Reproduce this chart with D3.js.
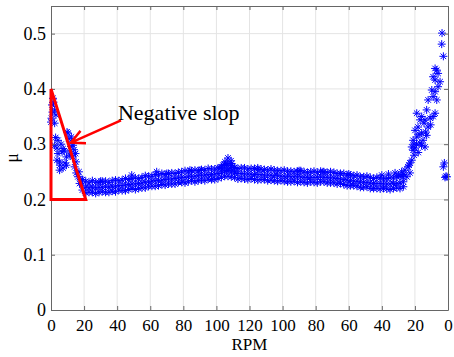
<!DOCTYPE html>
<html>
<head>
<meta charset="utf-8">
<script src="https://cdn.jsdelivr.net/npm/d3@7"></script>
<style>
  body { margin: 0; background: #fff; }
  svg { display: block; }
  text { font-family: "Liberation Serif", "Times New Roman", serif; fill: #000; }
</style>
</head>
<body>
<div id="chart"></div>
<script>
// run position: speed goes 0 -> 120 RPM, then back down 120 -> 0
const xTickPos = [0, 20, 40, 60, 80, 100, 120, 140, 160, 180, 200, 220, 240];
const xTickLabels = ['0', '20', '40', '60', '80', '100', '120', '100', '80', '60', '40', '20', '0'];
const yTicks = [0, 0.1, 0.2, 0.3, 0.4, 0.5];

// steady band, sampled every 2 position units from pos 19 (mu x 1000)
const bandStart = 19, bandStep = 2;
const bandMid = [226,222,221,222,221,222,222,223,222,224,224,225,225,226,227,228,228,229,230,231,
  232,233,234,234,235,236,237,237,238,239,240,240,241,242,242,243,244,244,245,245,
  246,247,248,251,252,250,248,247,247,246,246,246,245,245,245,244,244,244,243,243,
  242,242,242,241,241,241,241,240,240,240,240,240,241,240,240,239,239,238,237,236,
  235,234,233,233,232,231,231,230,229,229,229,228,228,228,229,229,230,232];
const bandHi = [236,233,230,234,231,231,233,233,231,234,235,234,235,238,236,238,239,238,240,243,
  242,242,245,244,247,245,247,248,247,249,250,252,250,252,253,252,254,253,256,255,
  255,257,259,263,265,261,258,256,257,257,255,256,256,254,255,254,253,255,253,252,
  252,253,251,251,250,251,252,250,249,250,251,249,251,250,249,250,249,247,247,247,
  244,244,243,244,241,241,242,240,238,240,239,237,238,239,239,241,242,245];
const bandLo = [217,212,213,213,211,213,214,213,213,215,214,217,216,216,218,220,218,220,221,221,
  224,224,224,225,227,226,228,228,228,231,231,230,232,234,232,234,235,234,237,236,
  236,238,240,242,242,241,240,237,238,237,236,238,236,235,236,236,234,235,234,233,
  234,233,232,232,233,231,232,231,230,232,231,230,232,232,230,230,230,228,229,227,
  225,225,225,224,222,222,223,220,220,220,219,220,219,218,220,221,220,223];

// start-up scatter (negative slope region)
const startPos = [1.2,0.6,2.2,0.0,2.2,3.0,1.5,0.3,0.9,
  4.2,2.2,7.3,4.2,9.3,5.2,7.3,5.2,10.3,12.3,11.3,13.3,14.3,16.3,17.3,15.3,9.3,
  9.7,12.7,13.3,3.6,6.7,3.6,8.5,5.4,10.9,12.1,13.9,15.1,16.9,18.1,11.5,6.1,8.0,2.8,14.8];
const startMu = [383,371,362,340,338,353,376,347,358,
  307,298,292,283,277,268,257,253,320,313,286,277,259,241,229,248,262,
  322,304,298,293,286,271,266,262,310,296,290,268,250,236,280,300,288,312,283];

// bumps above the band
const bumpPos = [102.2,104.0,105.2,106.2,107.0,108.2,109.2,111.2,106.5,103.5,108.8,110.0,
  48.8,63.9,84.0,90.1,164.4,208.0,30.0,70.0,125.0,150.0,180.0,200.0,204.0,212.0,210.0];
const bumpMu = [257,262,268,253,275,257,265,250,262,255,270,258,
  244,250,253,253,250,248,233,247,257,252,246,244,246,250,244];

// slow-down scatter at the end of the run
const endPos = [214.0,215.1,212.8,217.0,217.0,218.1,215.8,218.9,218.1,220.1,218.9,221.1,220.1,221.9,
  221.1,223.1,224.1,224.9,226.1,223.1,227.1,228.0,226.1,229.2,231.0,232.2,224.1,227.1,228.0,
  230.2,231.0,232.2,233.2,234.0,232.2,231.0,233.2,234.0,235.2,232.2,236.4,236.2,237.2,
  237.8,237.2,238.8,238.2,239.4,219.5,222.5,225.5,222.0,224.0,226.5,229.5,219.5,216.5,221.0];
const endMu = [253,241,241,248,266,271,259,289,295,293,307,313,325,331,
  356,344,320,307,295,302,316,331,344,347,350,356,350,362,380,
  398,386,395,380,404,416,422,434,428,413,437,501,481,459,
  266,259,242,240,241,300,318,338,285,298,322,335,280,262,300];

// annotation
const triangle = [[0, 0.4], [0, 0.2], [21, 0.2]];
const arrowFrom = [42.3, 0.343], arrowTo = [12.1, 0.303];
const noteText = 'Negative slop';

const W = 454, H = 357;
const margin = { top: 6, right: 6, bottom: 47, left: 51 };
const w = W - margin.left - margin.right, h = H - margin.top - margin.bottom;

const svg = d3.select('#chart').append('svg').attr('width', W).attr('height', H);
const g = svg.append('g').attr('transform', `translate(${margin.left},${margin.top})`);

const x = d3.scaleLinear().domain([0, 240]).range([0, w]);
const y = d3.scaleLinear().domain([0, 0.55]).range([h, 0]);

// grid
g.append('g').selectAll('line').data(xTickPos.slice(1, -1)).join('line')
  .attr('x1', d => x(d)).attr('x2', d => x(d)).attr('y1', 0).attr('y2', h)
  .attr('stroke', '#e4e4e4');
g.append('g').selectAll('line').data(yTicks.slice(1)).join('line')
  .attr('x1', 0).attr('x2', w).attr('y1', d => y(d)).attr('y2', d => y(d))
  .attr('stroke', '#e4e4e4');

// collect points
const points = [];
bandMid.forEach((m, i) => {
  const p = bandStart + i * bandStep;
  points.push([p, bandHi[i] / 1000], [p, m / 1000], [p, bandLo[i] / 1000]);
});
startPos.forEach((p, i) => points.push([p, startMu[i] / 1000]));
bumpPos.forEach((p, i) => points.push([p, bumpMu[i] / 1000]));
endPos.forEach((p, i) => points.push([p, endMu[i] / 1000]));

const star = 'M-4,0H4M0,-4V4M-2.8,-2.8L2.8,2.8M-2.8,2.8L2.8,-2.8';
g.append('g').attr('class', 'points').selectAll('path').data(points).join('path')
  .attr('d', star)
  .attr('transform', d => `translate(${x(d[0])},${y(d[1])})`)
  .attr('fill', 'none').attr('stroke', '#0000ff').attr('stroke-width', 1);

// axes (ticks inward on all four sides)
const axisColor = '#666';
const xAxis = g.append('g').attr('transform', `translate(0,${h})`)
  .call(d3.axisBottom(x).tickValues(xTickPos).tickFormat((d, i) => xTickLabels[i])
    .tickSizeInner(-4).tickSizeOuter(0).tickPadding(9));
const yAxis = g.append('g')
  .call(d3.axisLeft(y).tickValues(yTicks).tickFormat(d3.format('~g'))
    .tickSizeInner(-4).tickSizeOuter(0).tickPadding(5));
g.append('g')
  .call(d3.axisTop(x).tickValues(xTickPos).tickFormat('').tickSizeInner(-4).tickSizeOuter(0));
g.append('g').attr('transform', `translate(${w},0)`)
  .call(d3.axisRight(y).tickValues(yTicks).tickFormat('').tickSizeInner(-4).tickSizeOuter(0));

g.selectAll('.domain, .tick line').attr('stroke', axisColor);
xAxis.selectAll('text').attr('font-size', 17).attr('fill', '#000');
yAxis.selectAll('text').attr('font-size', 18).attr('fill', '#000');

// axis titles
svg.append('text').attr('x', margin.left + w / 2).attr('y', 350)
  .attr('text-anchor', 'middle').attr('font-size', 17).text('RPM');
svg.append('text').attr('transform', `translate(18,${margin.top + h / 2}) rotate(-90)`)
  .attr('text-anchor', 'middle').attr('font-size', 18).text('μ');

// annotation: triangle, arrow, label
g.append('path')
  .attr('d', d3.line().x(d => x(d[0])).y(d => y(d[1]))(triangle) + 'Z')
  .attr('fill', 'none').attr('stroke', '#ff0000').attr('stroke-width', 3);

const ax0 = x(arrowFrom[0]), ay0 = y(arrowFrom[1]);
const ax1 = x(arrowTo[0]), ay1 = y(arrowTo[1]);
const ang = Math.atan2(ay0 - ay1, ax0 - ax1);
const headLen = 15, headAng = 27 * Math.PI / 180;
const arrow = d3.path();
arrow.moveTo(ax0, ay0); arrow.lineTo(ax1, ay1);
arrow.moveTo(ax1 + headLen * Math.cos(ang - headAng), ay1 + headLen * Math.sin(ang - headAng));
arrow.lineTo(ax1, ay1);
arrow.lineTo(ax1 + headLen * Math.cos(ang + headAng), ay1 + headLen * Math.sin(ang + headAng));
g.append('path').attr('d', arrow.toString())
  .attr('fill', 'none').attr('stroke', '#ff0000').attr('stroke-width', 2.5);

g.append('text').attr('x', x(arrowFrom[0]) - 3).attr('y', y(arrowFrom[1]))
  .attr('font-size', 22).text(noteText);
</script>
</body>
</html>
